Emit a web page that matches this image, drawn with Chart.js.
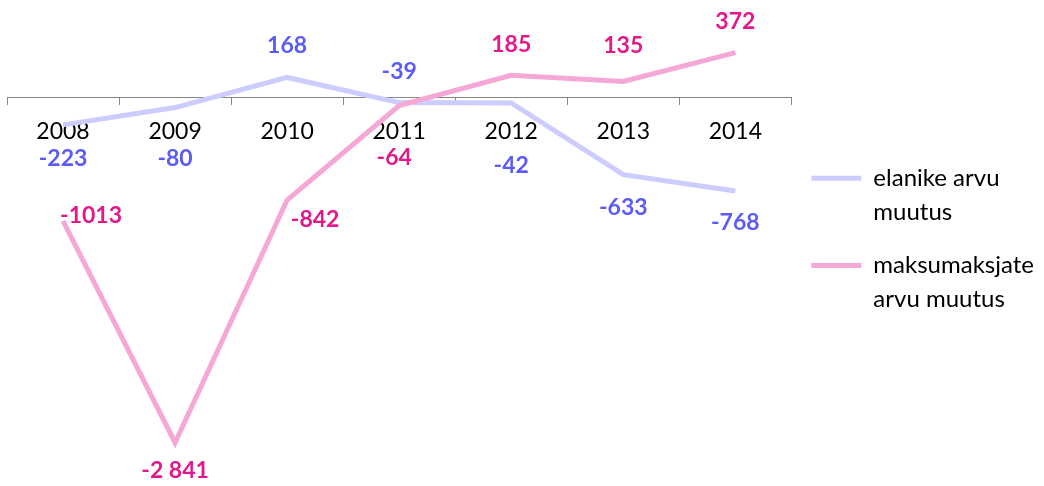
<!DOCTYPE html>
<html lang="et">
<head>
  <meta charset="UTF-8" />
  <title>Elanike ja maksumaksjate arvu muutus</title>
  <script src="https://cdn.jsdelivr.net/npm/chart.js"></script>
  <style>
    body {
      margin: 0;
      background: #ffffff;
    }
    .wrap {
      width: 1044px;
      height: 486px;
      position: relative;
    }
  </style>
</head>
<body>
  <div class="wrap">
    <canvas id="graafik"></canvas>
  </div>

  <script>
    const aastad = ['2008', '2009', '2010', '2011', '2012', '2013', '2014'];
    const elanikud = [-223, -80, 168, -39, -42, -633, -768];
    const maksumaksjad = [-1013, -2841, -842, -64, 185, 135, 372];
    const elanikudSilt = ['elanike arvu', 'muutus'];
    const maksumaksjadSilt = ['maksumaksjate', 'arvu muutus'];

    // siltide nihked punkti suhtes (dx, dy)
    const elanikudNihe = [[0, 34], [0, 51], [0, -32], [0, -31], [0, 63], [0, 33], [0, 32]];
    const maksNihe = [[28, -5], [0, 28], [28, 20], [-5, 52], [0, -31], [0, -36], [0, -31]];

    const font = 'Lato, "Open Sans", sans-serif';

    const andmeSildid = {
      id: 'andmeSildid',
      afterDatasetsDraw(chart) {
        const ctx = chart.ctx;
        ctx.save();
        ctx.font = 'bold 23px ' + font;
        ctx.textAlign = 'center';
        ctx.textBaseline = 'middle';
        chart.data.datasets.forEach((ds, i) => {
          const meta = chart.getDatasetMeta(i);
          meta.data.forEach((pt, j) => {
            const n = ds.nihked[j];
            let v = ds.data[j];
            let tekst = String(v);
            if (Math.abs(v) >= 2000) {
              tekst = (v < 0 ? '-' : '') + Math.floor(Math.abs(v) / 1000) + ' ' + String(Math.abs(v) % 1000).padStart(3, '0');
            }
            ctx.fillStyle = ds.siltVarv;
            ctx.fillText(tekst, pt.x + n[0], pt.y + n[1]);
          });
        });
        ctx.restore();
      }
    };

    const config = {
      type: 'line',
      data: {
        labels: aastad,
        datasets: [
          {
            label: 'elanike arvu muutus',
            data: elanikud,
            borderColor: '#ccccff',
            backgroundColor: '#ccccff',
            borderWidth: 5,
            pointRadius: 0,
            tension: 0,
            order: 1,
            siltVarv: '#5b5bf5',
            nihked: elanikudNihe,
            legendTekst: elanikudSilt
          },
          {
            label: 'maksumaksjate arvu muutus',
            data: maksumaksjad,
            borderColor: '#f5a8d6',
            backgroundColor: '#f5a8d6',
            borderWidth: 5,
            pointRadius: 0,
            tension: 0,
            order: 0,
            siltVarv: '#e3188a',
            nihked: maksNihe,
            legendTekst: maksumaksjadSilt
          }
        ]
      },
      options: {
        responsive: true,
        maintainAspectRatio: false,
        animation: false,
        layout: {
          padding: { left: 7, top: 25, bottom: 24, right: 0 }
        },
        scales: {
          x: {
            type: 'category',
            position: { y: 0 },
            offset: true,
            grid: {
              offset: true,
              drawOnChartArea: false,
              drawTicks: true,
              tickLength: 7,
              tickColor: '#868686'
            },
            border: { display: true, color: '#868686', width: 1 },
            ticks: {
              color: '#000000',
              font: { family: font, size: 23 },
              padding: 13,
              maxRotation: 0
            }
          },
          y: {
            display: false,
            min: -3000,
            max: 600
          }
        },
        plugins: {
          tooltip: { enabled: false },
          legend: {
            position: 'right',
            labels: {
              boxWidth: 50,
              boxHeight: 5,
              color: '#000000',
              font: { family: font, size: 24, lineHeight: 1.4 },
              padding: 20,
              generateLabels(chart) {
                return chart.data.datasets.map((ds, i) => ({
                  text: ds.legendTekst,
                  fillStyle: ds.borderColor,
                  strokeStyle: ds.borderColor,
                  lineWidth: 0,
                  datasetIndex: i,
                  hidden: false
                }));
              }
            }
          }
        }
      },
      plugins: [andmeSildid]
    };

    const ctx = document.getElementById('graafik').getContext('2d');
    window.graafik = new Chart(ctx, config);
  </script>
</body>
</html>
